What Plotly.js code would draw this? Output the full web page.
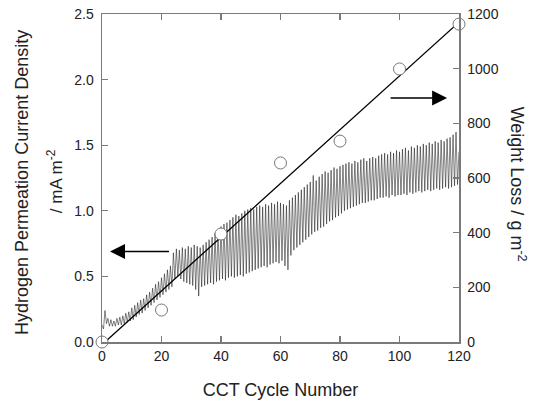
<!DOCTYPE html>
<html>
<head>
<meta charset="utf-8">
<script src="https://cdn.plot.ly/plotly-3.0.1.min.js"></script>
<style>html,body{margin:0;padding:0;background:#fff}#chart{width:534px;height:400px}</style>
</head>
<body>
<div id="chart"></div>
<script>
// Weight loss measurements (right axis)
var cycles = [0, 20, 40, 60, 80, 100, 120];
var weightLoss = [0, 117, 395, 655, 735, 999, 1163];
// Linear fit of weight loss
var fitX = [1, 120];
var fitY = [0, 1170];
// Hydrogen permeation current density per CCT cycle: upper and lower values of each oscillation
var peakHigh = [
0.13,0.24,0.18,0.17,0.16,0.18,0.19,0.20,0.22,0.23,
0.26,0.28,0.30,0.32,0.33,0.36,0.38,0.41,0.44,0.46,
0.49,0.52,0.55,0.58,0.68,0.71,0.70,0.72,0.71,0.73,
0.72,0.74,0.73,0.72,0.74,0.76,0.78,0.80,0.83,0.86,
0.88,0.90,0.91,0.93,0.95,0.97,0.96,0.98,1.00,1.01,
1.02,1.01,1.03,1.04,1.03,1.05,1.04,1.06,1.05,1.07,
1.06,1.05,1.04,1.08,1.10,1.12,1.14,1.16,1.18,1.20,
1.22,1.27,1.23,1.26,1.28,1.30,1.29,1.31,1.33,1.32,
1.34,1.35,1.36,1.37,1.36,1.38,1.37,1.39,1.40,1.38,
1.40,1.41,1.40,1.42,1.43,1.44,1.43,1.45,1.44,1.46,
1.45,1.47,1.48,1.46,1.49,1.48,1.50,1.49,1.51,1.50,
1.52,1.51,1.53,1.52,1.54,1.53,1.55,1.56,1.58,1.60,
1.45];
var peakLow = [
0.10,0.14,0.12,0.12,0.12,0.13,0.13,0.14,0.15,0.16,
0.17,0.19,0.21,0.22,0.24,0.26,0.28,0.30,0.32,0.34,
0.36,0.38,0.40,0.42,0.48,0.50,0.48,0.46,0.45,0.44,
0.43,0.40,0.35,0.42,0.43,0.44,0.45,0.44,0.46,0.47,
0.48,0.47,0.49,0.50,0.49,0.50,0.51,0.50,0.52,0.53,
0.54,0.55,0.56,0.57,0.58,0.57,0.59,0.60,0.61,0.60,
0.62,0.58,0.55,0.66,0.70,0.72,0.74,0.76,0.78,0.80,
0.82,0.84,0.85,0.87,0.88,0.90,0.92,0.93,0.95,0.96,
0.98,1.00,1.01,1.02,1.03,1.04,1.05,1.06,1.06,1.07,
1.08,1.08,1.09,1.10,1.10,1.11,1.10,1.12,1.11,1.12,
1.12,1.13,1.12,1.14,1.13,1.14,1.15,1.14,1.15,1.16,
1.15,1.16,1.17,1.16,1.17,1.18,1.17,1.18,1.19,1.20,
1.30];
var xTicks = [0, 20, 40, 60, 80, 100, 120];
var yTicks = [0, 0.5, 1.0, 1.5, 2.0, 2.5];
var y2Ticks = [0, 200, 400, 600, 800, 1000, 1200];

var sigX = [], sigY = [];
for (var i = 0; i < peakHigh.length; i++) {
  sigX.push(i); sigY.push(peakHigh[i]);
  if (i < peakHigh.length - 1) { sigX.push(i + 0.5); sigY.push(peakLow[i]); }
}

var font = 'Liberation Sans, Arial, sans-serif';
var axColor = '#7a7a7a';
var txt = '#222';

var traces = [
  {x: sigX, y: sigY, type: 'scatter', mode: 'lines', yaxis: 'y',
   line: {color: 'rgba(10,10,10,0.85)', width: 0.6}, hoverinfo: 'none'},
  {x: fitX, y: fitY, type: 'scatter', mode: 'lines', yaxis: 'y2',
   line: {color: '#000', width: 1.3}},
  {x: cycles, y: weightLoss, type: 'scatter', mode: 'markers', yaxis: 'y2', cliponaxis: false,
   marker: {symbol: 'circle', size: 12, color: '#fff', line: {color: '#777', width: 1}}}
];

var layout = {
  width: 534, height: 400,
  margin: {l: 102, r: 75, t: 14, b: 58},
  paper_bgcolor: '#fff', plot_bgcolor: '#fff',
  showlegend: false,
  font: {family: font, size: 14, color: txt},
  xaxis: {range: [0, 120], tickvals: xTicks, ticks: 'inside', ticklen: 6, tickcolor: axColor, tickwidth: 1.2,
          showline: true, linecolor: axColor, linewidth: 1.5, mirror: 'ticks', showgrid: false, zeroline: false,
          tickfont: {size: 14, color: txt}, ticklabelstandoff: 1,
          title: {text: 'CCT Cycle Number', font: {size: 18, color: txt}, standoff: 20}},
  yaxis: {range: [0, 2.5], tickvals: yTicks, tickformat: '.1f', ticks: 'inside', ticklen: 6, tickcolor: axColor, tickwidth: 1.2,
          showline: true, linecolor: axColor, linewidth: 1.5, showgrid: false, zeroline: false,
          tickfont: {size: 14, color: txt}, ticklabelstandoff: 4},
  yaxis2: {range: [0, 1200], tickvals: y2Ticks, overlaying: 'y', side: 'right', ticks: 'inside', ticklen: 6,
           tickcolor: axColor, tickwidth: 1.2, showline: true, linecolor: axColor, linewidth: 1.5,
           showgrid: false, zeroline: false, tickfont: {size: 14, color: txt}, ticklabelstandoff: 4},
  annotations: [
    {x: 2.7, y: 0.69, ax: 23, ay: 0.69, xref: 'x', yref: 'y', axref: 'x', ayref: 'y', text: '',
     showarrow: true, arrowhead: 2, arrowsize: 2, arrowwidth: 1.5, arrowcolor: '#000'},
    {x: 116, y: 1.86, ax: 96.5, ay: 1.86, xref: 'x', yref: 'y', axref: 'x', ayref: 'y', text: '',
     showarrow: true, arrowhead: 2, arrowsize: 2, arrowwidth: 1.5, arrowcolor: '#000'},
    {xref: 'paper', yref: 'paper', x: -0.224, y: 0.485, text: 'Hydrogen Permeation Current Density', textangle: -90,
     showarrow: false, font: {size: 18, color: txt}, xanchor: 'center', yanchor: 'middle'},
    {xref: 'paper', yref: 'paper', x: -0.132, y: 0.49, text: '/ mA m<sup>-2</sup>', textangle: -90,
     showarrow: false, font: {size: 17, color: txt}, xanchor: 'center', yanchor: 'middle'},
    {xref: 'paper', yref: 'paper', x: 1.165, y: 0.48, text: 'Weight Loss / g m<sup>-2</sup>', textangle: 90,
     showarrow: false, font: {size: 18, color: txt}, xanchor: 'center', yanchor: 'middle'}
  ]
};

Plotly.newPlot('chart', traces, layout, {displayModeBar: false, staticPlot: true});
</script>
</body>
</html>
